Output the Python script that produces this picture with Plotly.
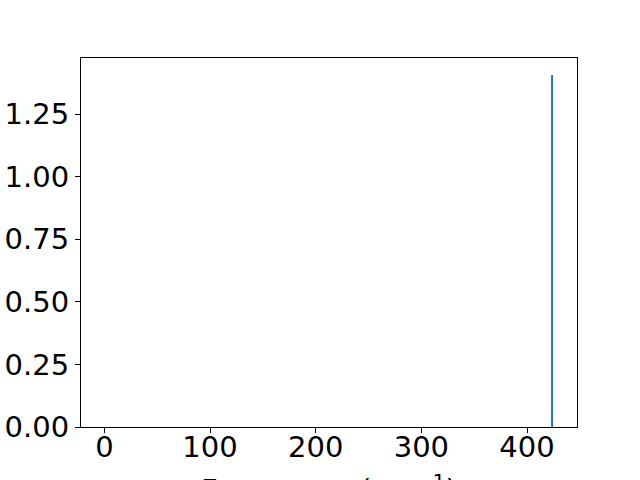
import plotly.graph_objects as go

# Spectrum data: single sharp peak
frequency = [423.7, 423.7]
intensity = [0.0, 1.406]

x_ticks = [0, 100, 200, 300, 400]
y_ticks = [0.0, 0.25, 0.5, 0.75, 1.0, 1.25]
x_label = "Frequency (cm<sup>−1</sup>)"

fig = go.Figure()
fig.add_trace(go.Scatter(x=frequency, y=intensity, mode="lines",
                         line=dict(color="#1f77b4", width=2), showlegend=False))

axis_common = dict(showgrid=False, zeroline=False, showline=True, linecolor="black",
                   linewidth=1, mirror=True, ticks="outside", ticklen=5, tickwidth=1,
                   tickcolor="black", automargin=False,
                   tickfont=dict(family="DejaVu Sans", size=29, color="black"))

fig.update_xaxes(range=[-22.1, 447.3], tickvals=x_ticks, ticktext=[str(v) for v in x_ticks],
                 ticklabelstandoff=-11, **axis_common)
fig.update_yaxes(range=[0, 1.474], tickvals=y_ticks, tickformat=".2f", **axis_common)

fig.add_annotation(text=x_label, xref="paper", yref="paper", x=0.5, y=-0.164,
                   xanchor="center", yanchor="middle", showarrow=False,
                   font=dict(family="DejaVu Sans", size=29, color="black"))

fig.update_layout(width=640, height=480, margin=dict(l=81, r=63.3, t=58.3, b=53.3),
                  plot_bgcolor="white", paper_bgcolor="white")

fig.write_html("out.html", config={"displayModeBar": False},
               post_script="document.body.style.margin='0';")
